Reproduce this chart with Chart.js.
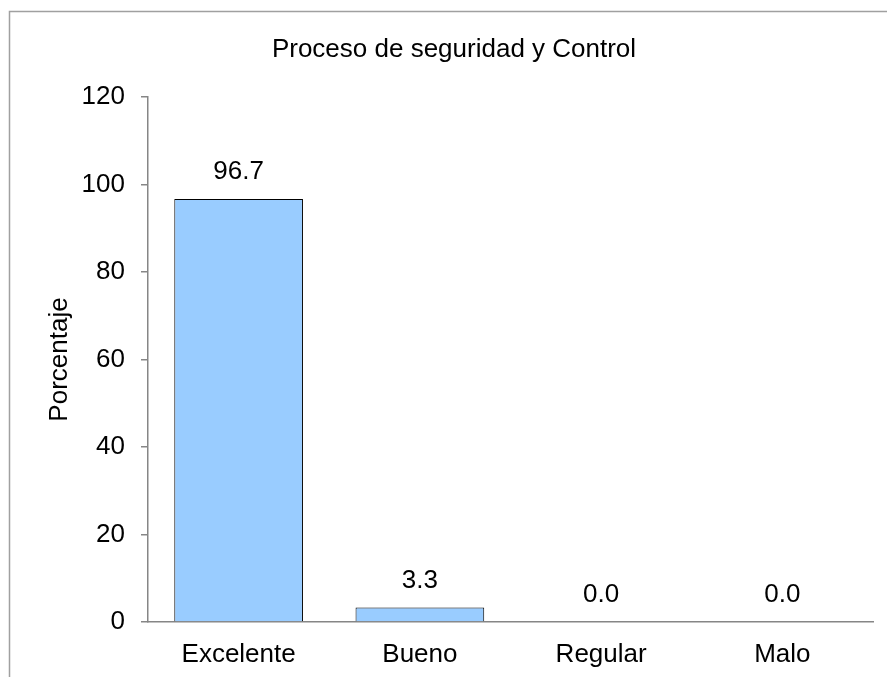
<!DOCTYPE html>
<html>
<head>
<meta charset="utf-8">
<script src="https://cdn.jsdelivr.net/npm/chart.js@4/dist/chart.umd.min.js"></script>
<style>
  html, body { margin: 0; padding: 0; background: #fff; }
  #wrap { width: 887px; height: 677px; position: relative; }
</style>
</head>
<body>
<div id="wrap"><canvas id="c" width="887" height="677"></canvas></div>
<script>
// Evaluación del proceso de seguridad y control (porcentaje por categoría)
const categories = ['Excelente', 'Bueno', 'Regular', 'Malo'];
const percentages = [96.7, 3.3, 0.0, 0.0];
const chartTitle = 'Proceso de seguridad y Control';
const yAxisTitle = 'Porcentaje';

const FONT = '"Liberation Sans", Arial, sans-serif';
const FONT_SIZE = 26;
const AXIS_GRAY = '#868686';

// Frame, title, axis title and value labels
const decorations = {
  id: 'decorations',
  afterDraw(chart) {
    const ctx = chart.ctx;
    const area = chart.chartArea;
    ctx.save();
    // outer frame
    ctx.strokeStyle = '#a0a0a0';
    ctx.lineWidth = 1.5;
    ctx.beginPath();
    ctx.moveTo(9.5, 677);
    ctx.lineTo(9.5, 11.5);
    ctx.lineTo(887, 11.5);
    ctx.stroke();

    ctx.fillStyle = '#000';
    ctx.font = FONT_SIZE + 'px ' + FONT;
    ctx.textAlign = 'center';
    ctx.textBaseline = 'middle';
    ctx.fillText(chartTitle, 454, 50);

    // rotated y-axis title
    ctx.save();
    ctx.translate(60, (area.top + area.bottom) / 2);
    ctx.rotate(-Math.PI / 2);
    ctx.fillText(yAxisTitle, 0, 0);
    ctx.restore();

    // value labels above each bar
    const meta = chart.getDatasetMeta(0);
    meta.data.forEach((bar, i) => {
      ctx.fillText(percentages[i].toFixed(1), bar.x, bar.y - 27);
    });
    ctx.restore();
  }
};

new Chart(document.getElementById('c'), {
  type: 'bar',
  data: {
    labels: categories,
    datasets: [{
      data: percentages,
      backgroundColor: '#99ccff',
      borderColor: '#000',
      borderWidth: 1,
      categoryPercentage: 1,
      barPercentage: 0.71
    }]
  },
  options: {
    responsive: false,
    animation: false,
    devicePixelRatio: 1,
    layout: { padding: { top: 97, right: 14, left: 0, bottom: 0 } },
    plugins: { legend: { display: false }, title: { display: false }, tooltip: { enabled: false } },
    scales: {
      x: {
        grid: { display: false, drawTicks: false },
        border: { display: true, color: AXIS_GRAY, width: 1.5 },
        ticks: { color: '#000', font: { family: FONT, size: FONT_SIZE }, padding: 17, maxRotation: 0 },
        afterFit(scale) { scale.height = 55; }
      },
      y: {
        min: 0, max: 120,
        ticks: { stepSize: 20, color: '#000', font: { family: FONT, size: FONT_SIZE }, padding: 16 },
        grid: { drawOnChartArea: false, drawTicks: true, tickLength: 7, color: AXIS_GRAY, lineWidth: 1.5 },
        border: { display: true, color: AXIS_GRAY, width: 1.5 },
        afterFit(scale) { scale.width = 148; }
      }
    }
  },
  plugins: [decorations]
});
</script>
</body>
</html>
